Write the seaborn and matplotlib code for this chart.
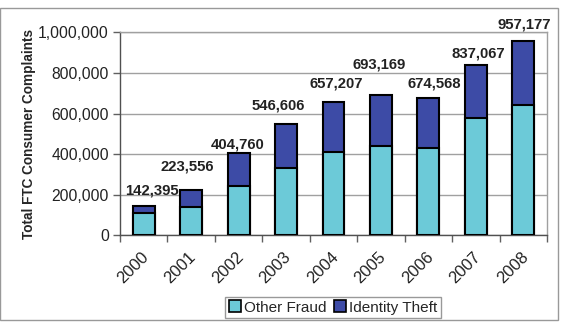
import matplotlib
matplotlib.use("Agg")
import matplotlib.pyplot as plt
import seaborn as sns
import pandas as pd
from matplotlib.ticker import FuncFormatter
from matplotlib.patches import Rectangle, Patch

years = ["2000", "2001", "2002", "2003", "2004", "2005", "2006", "2007", "2008"]
other_fraud = [111278, 137306, 242783, 331366, 410298, 437482, 428533, 578640, 643195]
identity_theft = [31117, 86250, 161977, 215240, 246909, 255687, 246035, 258427, 313982]
totals = [142395, 223556, 404760, 546606, 657207, 693169, 674568, 837067, 957177]
y_ticks = [0, 200000, 400000, 600000, 800000, 1000000]

# label offsets (px) relative to bar top center
lab_dx = [8, -3.6, -1, -8, 2.6, -1.8, 5.5, 2.3, 0.9]
lab_dy = [15.4, 23.2, 9.1, 18.6, 17.9, 29.6, 15.1, 11.4, 16]

sns.set_theme(style="white")
plt.rcParams['font.family'] = ['Liberation Sans', 'DejaVu Sans']

df = pd.DataFrame({"year": years, "other": other_fraud, "idt": identity_theft})
df["total"] = df["other"] + df["idt"]

light = "#6CCAD8"
dark = "#3D4BA6"

fig = plt.figure(figsize=(5.63, 3.24), dpi=100)
ax = fig.add_axes([120/563, 1-235.3/324, 427/563, 203/324])

sns.barplot(data=df, x="year", y="total", color=dark, saturation=1, width=0.46,
            edgecolor="black", linewidth=1.5, ax=ax, zorder=3)
sns.barplot(data=df, x="year", y="other", color=light, saturation=1, width=0.46,
            edgecolor="black", linewidth=1.5, ax=ax, zorder=3)

ax.set_ylim(0, 1000000)
ax.set_xlim(-0.5, len(years) - 0.5)
ax.set_yticks(y_ticks)
ax.yaxis.set_major_formatter(FuncFormatter(lambda v, p: f"{int(v):,}"))
ax.grid(axis="y", color="#A0A0A0", linewidth=1, zorder=0)
ax.set_axisbelow(True)

# x ticks at category boundaries, labels at centers
ax.set_xticks([i + 0.5 for i in range(-1, len(years))])
ax.set_xticklabels([])
ax.tick_params(axis="x", direction="out", length=5, width=1, color="#606060", bottom=True)
ax.tick_params(axis="y", direction="out", length=5, width=1, color="#606060", left=True,
               labelsize=11.3, labelcolor="#222222", pad=3)
for i, y in enumerate(years):
    ax.annotate(y, xy=(i, 0), xycoords="data", xytext=(-2, -10), textcoords="offset points",
                rotation=45, ha="right", va="top", rotation_mode="anchor",
                fontsize=12, color="#222222", annotation_clip=False)

for sp in ["left", "bottom"]:
    ax.spines[sp].set_color("#505050")
    ax.spines[sp].set_linewidth(1)
for sp in ["right", "top"]:
    ax.spines[sp].set_color("#A0A0A0")
    ax.spines[sp].set_linewidth(1)

ax.set_xlabel("")
ax.set_ylabel("Total FTC Consumer Complaints", fontsize=9.8, fontweight="bold")
ax.yaxis.set_label_coords(-0.197, 0.5)

for i, t in enumerate(totals):
    ax.annotate(f"{t:,}", xy=(i, t), xytext=(lab_dx[i] * 0.72, lab_dy[i] * 0.72),
                textcoords="offset points", ha="center", va="center",
                fontsize=10.7, fontweight="bold", color="#222222", annotation_clip=False)

handles = [Patch(facecolor=light, edgecolor="black", linewidth=1.2, label="Other Fraud"),
           Patch(facecolor=dark, edgecolor="black", linewidth=1.2, label="Identity Theft")]
leg = fig.legend(handles=handles, loc="center", bbox_to_anchor=(333/563, 1-307.5/324), ncol=2,
                 frameon=True, fancybox=False, fontsize=11, handlelength=0.8, handleheight=0.8,
                 handletextpad=0.2, columnspacing=0.5, borderpad=0.25, borderaxespad=0)
leg.get_frame().set_edgecolor("#808080")
leg.get_frame().set_linewidth(1)

fig.patches.append(Rectangle((0/563, 1-320/324), 558/563, 312/324, transform=fig.transFigure,
                             fill=False, edgecolor="#999999", linewidth=1))

fig.savefig("out.png", dpi=100)
